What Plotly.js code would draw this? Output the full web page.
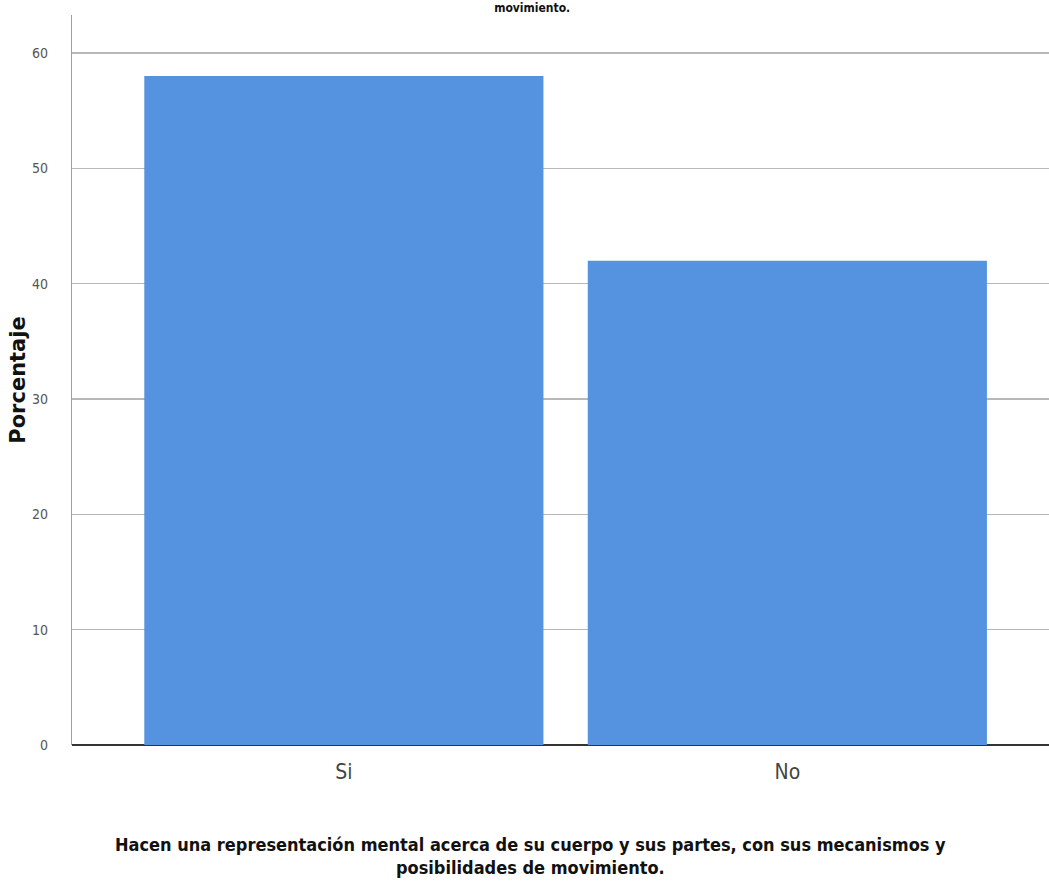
<!DOCTYPE html>
<html><head><meta charset="utf-8">
<script src="https://cdn.plot.ly/plotly-3.0.1.min.js"></script>
<style>html,body{margin:0;padding:0;background:#fff}#c{width:1049px;height:888px}</style>
</head><body><div id="c"></div>
<script>
const categories = ["Si", "No"];
const percentages = [58, 42];
const yTicks = [0, 10, 20, 30, 40, 50, 60];
const chartTitle = "movimiento.";
const xTitle = "Hacen una representación mental acerca de su cuerpo y sus partes, con sus mecanismos y<br>posibilidades de movimiento.";
const yTitle = "Porcentaje";

const narrow = '"DejaVu Sans Condensed", "Liberation Sans Narrow", "Arial Narrow", sans-serif';

Plotly.newPlot('c', [{
  type: 'bar', x: categories, y: percentages,
  marker: {color: '#5593e1', line: {width: 0}},
  hoverinfo: 'none'
}], {
  width: 1049, height: 888,
  margin: {l: 72, r: 0, t: 15, b: 143},
  paper_bgcolor: '#fff', plot_bgcolor: '#fff',
  bargap: 0.1,
  showlegend: false,
  title: {text: chartTitle, font: {family: narrow, size: 12, color: '#111', weight: 'bold'},
          x: 0.471, xanchor: 'center', xref: 'paper', yref: 'container', y: 0.996, yanchor: 'top'},
  xaxis: {range: [-0.613, 1.59], showgrid: false, zeroline: false, showline: false,
          tickfont: {family: narrow, size: 21, color: '#444'}, ticks: '', ticklabelstandoff: 12},
  yaxis: {range: [0, 63.3], tickvals: yTicks, ticktext: yTicks.map(String),
          showgrid: true, gridcolor: '#b8b8b8', gridwidth: 1.2,
          zeroline: true, zerolinecolor: '#333', zerolinewidth: 1.5,
          showline: true, linecolor: '#a0a0a0', linewidth: 1.2,
          ticks: '', ticklabelstandoff: 20,
          tickfont: {family: narrow, size: 14, color: '#555'},
          title: {text: yTitle, font: {family: 'DejaVu Sans, sans-serif', size: 21, color: '#111', weight: 'bold'}, standoff: 0}},
  annotations: [{
    text: xTitle, xref: 'paper', yref: 'paper', x: 0.469, y: 0, yshift: -87,
    xanchor: 'center', yanchor: 'top', showarrow: false, align: 'center',
    font: {family: narrow, size: 18, color: '#111', weight: 'bold'}
  }]
}, {displayModeBar: false, staticPlot: true});
</script></body></html>
